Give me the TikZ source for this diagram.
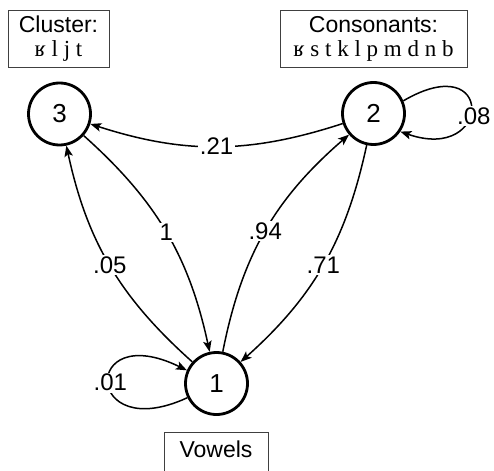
\documentclass[tikz,border=0pt]{standalone}
\usepackage{fontspec}
\setmainfont{Liberation Sans}
\newfontfamily\ipafont{Liberation Serif}
\usetikzlibrary{arrows.meta}

\tikzset{
  state/.style={circle, draw, line width=2.8pt, minimum size=62pt, inner sep=0pt,
                font=\fontsize{26pt}{28pt}\selectfont},
  trans/.style={line width=1.5pt, -{Stealth[length=11pt, width=8.5pt, inset=2.5pt]}},
  lbl/.style={fill=white, inner sep=1.5pt, font=\fontsize{24pt}{26pt}\selectfont},
  infobox/.style={draw=black!75, line width=0.9pt, align=center, inner sep=0pt,
                  font=\fontsize{23pt}{24pt}\selectfont}
}

\begin{document}
\begin{tikzpicture}[x=1pt, y=-1pt]
  \useasboundingbox (0,0) rectangle (494,470);

  % states
  \node[state] (s3) at (59.5,114) {3};
  \node[state] (s2) at (373.5,113.5) {2};
  \node[state] (s1) at (216.5,383.5) {1};

  % phoneme class boxes
  \node[infobox, minimum width=101pt, minimum height=57pt] (b3) at (58.5,38.5)
    {Cluster:\\{\ipafont ʁ l j t}};
  \node[infobox, minimum width=187pt, minimum height=57pt] (b2) at (373.5,38.5)
    {Consonants:\\{\ipafont ʁ s t k l p m d n b}};
  \node[infobox, minimum width=104pt, text height=25pt, text depth=20pt, anchor=north] (b1)
    at (216,432) {Vowels};

  % transitions between states
  \draw[trans] (s2) to[bend left=18] node[lbl] {.21} (s3);
  \draw[trans] (s3) to[bend left=18] node[lbl] {1} (s1);
  \draw[trans] (s1) to[bend left=18] node[lbl] {.05} (s3);
  \draw[trans] (s1) to[bend left=19] node[lbl] {.94} (s2);
  \draw[trans] (s2) to[bend left=18] node[lbl] {.71} (s1);

  % self transitions
  \draw[trans] (s2.23) .. controls +(92,-54) and +(92,32) .. node[lbl, pos=0.5, xshift=3pt, yshift=-8pt] {.08} (s2.-34);
  \draw[trans] (s1.206) .. controls +(-104,48) and +(-106,-52) .. node[lbl, pos=0.5, xshift=2pt] {.01} (s1.156);
\end{tikzpicture}
\end{document}
